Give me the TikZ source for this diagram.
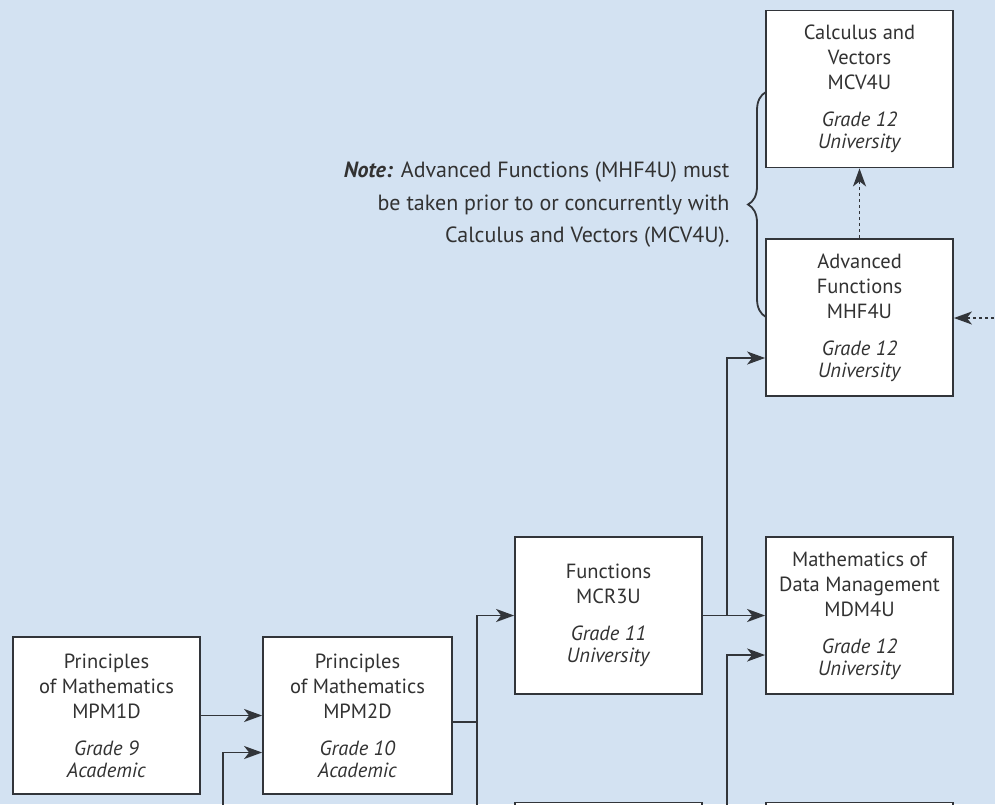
\documentclass[tikz,border=0pt]{standalone}
\usepackage{fontspec}
\setmainfont{PT Sans}
\usetikzlibrary{arrows.meta,decorations.pathreplacing,calc}
\definecolor{bgblue}{RGB}{211,226,242}
\definecolor{ink}{RGB}{50,53,58}
\definecolor{txt}{RGB}{50,50,50}
\begin{document}
\begin{tikzpicture}[x=1pt,y=-1pt,
  course/.style={draw=ink, line width=1.8pt, fill=white, minimum width=187pt,
    minimum height=157pt, inner sep=0pt, align=center, text=txt,
    font=\fontsize{20.5}{25}\selectfont},
  link/.style={draw=ink, line width=1.8pt},
  arr/.style={link, -{Stealth[length=18pt,width=13pt,inset=5pt]}},
  darr/.style={arr, dash pattern=on 3pt off 3pt}]
\clip (0,0) rectangle (995,804);
\fill[bgblue] (0,0) rectangle (995,804);

\node[course] (mcv) at (859.5,89) {Calculus and\\Vectors\\MCV4U\\[12pt]\textit{Grade 12}\\[-3pt]\textit{University}};
\node[course] (mhf) at (859.5,317.5) {Advanced\\Functions\\MHF4U\\[12pt]\textit{Grade 12}\\[-3pt]\textit{University}};
\node[course] (mcr) at (608.5,615.5) {Functions\\MCR3U\\[12pt]\textit{Grade 11}\\[-3pt]\textit{University}};
\node[course] (mdm) at (859.5,615.5) {Mathematics of\\Data Management\\MDM4U\\[12pt]\textit{Grade 12}\\[-3pt]\textit{University}};
\node[course] (mpm1) at (106.5,715.5) {Principles\\of Mathematics\\MPM1D\\[12pt]\textit{Grade 9}\\[-3pt]\textit{Academic}};
\node[course, minimum width=189pt] (mpm2) at (357.5,715.5) {Principles\\of Mathematics\\MPM2D\\[12pt]\textit{Grade 10}\\[-3pt]\textit{Academic}};
\node[course] (b1) at (608.5,881) {};
\node[course] (b2) at (859.5,881) {};

\node[anchor=east, align=right, text=txt, font=\fontsize{22}{32.5}\selectfont] (note) at (733,205)
  {\textbf{\textit{Note:}} Advanced Functions (MHF4U) must\\be taken prior to or concurrently with\\Calculus and Vectors (MCV4U).};

\coordinate (bt) at (766,92);
\coordinate (bb) at (766,317);
\draw[link, decorate, decoration={brace, amplitude=18pt}] (bb) -- (bt);

\draw[arr] (mpm1.east) -- (mpm2.west);
\coordinate (f1) at (223,810);
\draw[arr] (f1) |- ($(mpm2.west)+(0,37)$);
\coordinate (j1) at (477,722);
\draw[link] ($(mpm2.east)+(0,6.5)$) -- (j1);
\coordinate (f2) at (477,810);
\draw[arr] (f2) |- (mcr.west);
\draw[arr] (mcr.east) -- (mdm.west);
\coordinate (j2) at (727,615.5);
\draw[arr] (j2) |- ($(mhf.west)+(0,40.5)$);
\coordinate (f3) at (727,810);
\draw[arr] (f3) |- ($(mdm.west)+(0,39.5)$);
\draw[darr] (mhf.north) -- (mcv.south);
\coordinate (f4) at (1000,318);
\draw[darr] (f4) -- (mhf.east |- f4);
\end{tikzpicture}
\end{document}
